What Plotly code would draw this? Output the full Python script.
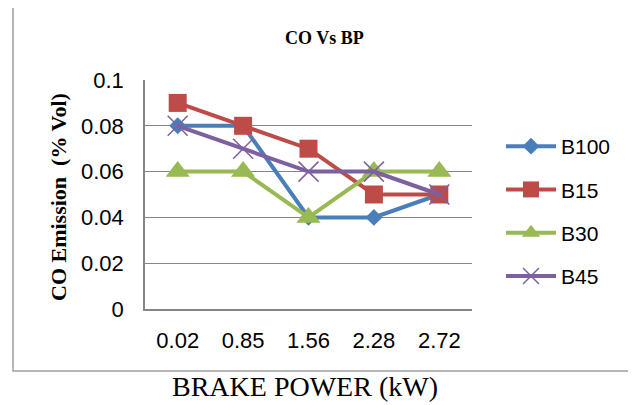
import plotly.graph_objects as go

categories = ["0.02", "0.85", "1.56", "2.28", "2.72"]
b100 = [0.08, 0.08, 0.04, 0.04, 0.05]
b15 = [0.09, 0.08, 0.07, 0.05, 0.05]
b30 = [0.06, 0.06, 0.04, 0.06, 0.06]
b45 = [0.08, 0.07, 0.06, 0.06, 0.05]
y_ticks = [0, 0.02, 0.04, 0.06, 0.08, 0.1]

series = [
    ("B100", b100, "#4A7EBB", dict(symbol="diamond", size=13)),
    ("B15", b15, "#BE4B48", dict(symbol="square", size=18)),
    ("B30", b30, "#98B954", dict(symbol="triangle-up", size=21)),
    ("B45", b45, "#7D60A0", dict(symbol="x-thin-open", size=20, line=dict(width=1.5))),
]

fig = go.Figure()
for name, vals, col, mk in series:
    mk = dict(mk)
    mk["color"] = col
    if "line" in mk:
        mk["line"]["color"] = col
    fig.add_trace(go.Scatter(
        x=categories, y=vals, name=name, mode="lines+markers",
        line=dict(color=col, width=4), marker=mk, legendgroup=name,
    ))

# page body has an 8px margin; work in reference pixel coords and shift
OFF = 8
W, H = 636 - OFF, 405 - OFF
L, R, T, B = 145, 472, 80, 309
pw, ph = R - L, B - T

def px(x):
    return (x - L) / pw

def py(y):
    return (B - y) / ph

fig.update_layout(
    width=W, height=H,
    margin=dict(l=L - OFF, r=636 - R, t=T - OFF, b=405 - B, pad=0),
    paper_bgcolor="white", plot_bgcolor="white",
    font=dict(family="Liberation Sans", size=22, color="#000000"),
    showlegend=True,
    legend=dict(x=px(501), y=py(126), xanchor="left", yanchor="top",
                font=dict(size=21, family="Liberation Sans"),
                tracegroupgap=13, itemwidth=50, bgcolor="rgba(0,0,0,0)"),
    xaxis=dict(type="category", range=[-0.5, 4.5], showgrid=False,
               showline=True, linecolor="#868686", linewidth=2,
               ticks="", ticklabelstandoff=11, tickfont=dict(size=22)),
    yaxis=dict(range=[0, 0.1], tickvals=y_ticks, showgrid=True,
               gridcolor="#868686", gridwidth=1, showline=True,
               linecolor="#868686", linewidth=1.5, ticks="",
               ticklabelstandoff=15, tickfont=dict(size=22), zeroline=False),
    shapes=[dict(type="rect", xref="paper", yref="paper",
                 x0=px(13), x1=px(645), y0=py(371), y1=py(7),
                 line=dict(color="#A0A0A0", width=1.5), layer="below")],
    annotations=[
        dict(text="<b>CO Vs BP</b>", xref="paper", yref="paper",
             x=px(324), y=py(38), showarrow=False,
             xanchor="center", yanchor="middle",
             font=dict(family="Liberation Serif", size=18)),
        dict(text="<b>CO Emission  (% Vol)</b>", xref="paper", yref="paper",
             x=px(58), y=py(197), showarrow=False, textangle=-90,
             xanchor="center", yanchor="middle",
             font=dict(family="Liberation Serif", size=22)),
        dict(text="BRAKE POWER (kW)", xref="paper", yref="paper",
             x=px(305), y=py(386), showarrow=False,
             xanchor="center", yanchor="middle",
             font=dict(family="Liberation Serif", size=28)),
    ],
)

fig.write_html("out.html")
